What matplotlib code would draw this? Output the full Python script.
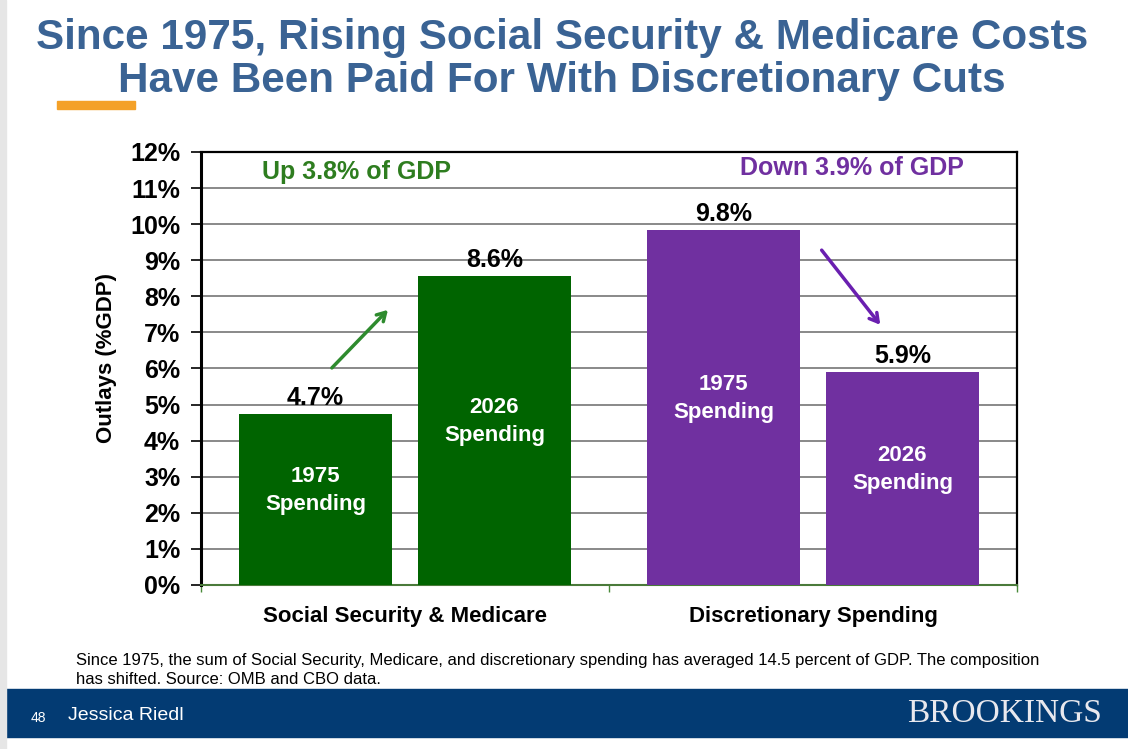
import matplotlib
matplotlib.use('Agg')
from matplotlib import pyplot as plt, ticker
from matplotlib.patches import Rectangle

groups = ['Social Security & Medicare', 'Discretionary Spending']
years = ['1975', '2026']
ss_medicare = [4.74, 8.56]
discretionary = [9.84, 5.90]
y_ticks = list(range(0, 13))
changes = ['Up 3.8% of GDP', 'Down 3.9% of GDP']

green = '#006400'
purple = '#7030A0'
title_blue = '#3A6394'
navy = '#033B73'

plt.rcParams['font.family'] = ['Liberation Sans', 'DejaVu Sans']


def main():
    fig = plt.figure(figsize=(11.28, 7.49), dpi=100)
    ax = fig.add_axes([0.1782, 0.2190, 0.7234, 0.5781])

    width = 0.375
    offset = 0.219
    series = [ss_medicare, discretionary]
    colors = [green, purple]
    for gi, (vals, col) in enumerate(zip(series, colors)):
        center = gi + 0.5
        for bi, (yr, v) in enumerate(zip(years, vals)):
            x = center + (offset if bi else -offset)
            ax.bar(x, v, width=width, color=col, zorder=3)
            ax.text(x, v + 0.1, f'{v:.1f}%', ha='center', va='bottom',
                    fontsize=18, fontweight='bold', color='black', zorder=4)
            # label inside the bar
            ax.text(x, v / 2 + 0.25, f'{yr}\nSpending', ha='center', va='center',
                    fontsize=16, fontweight='bold', color='white',
                    linespacing=1.4, zorder=4)

    ax.set_xlim(0, 2)
    ax.set_ylim(0, 12)
    ax.set_yticks(y_ticks)
    ax.set_yticklabels([f'{t}%' for t in y_ticks], fontsize=18, fontweight='bold')
    ax.tick_params(axis='y', length=7, width=1.2, pad=8)
    ax.set_xticks([0.5, 1.5])
    ax.set_xticklabels(groups, fontsize=16, fontweight='bold')
    ax.tick_params(axis='x', length=0, pad=15)
    ax.set_xticks([0, 1, 2], minor=True)
    ax.tick_params(axis='x', which='minor', length=5, color='#4a8a3a', width=1)

    ax.grid(axis='y', color='#808080', linewidth=1.3, zorder=0)
    ax.set_axisbelow(True)
    ax.spines['left'].set_linewidth(2.2)
    ax.spines['top'].set_linewidth(1.6)
    ax.spines['right'].set_linewidth(1.6)
    ax.spines['bottom'].set_color('#4a7a3a')
    ax.spines['bottom'].set_linewidth(1.5)

    ax.set_ylabel('Outlays (%GDP)', fontsize=16, fontweight='bold')
    ax.yaxis.set_label_coords(-0.103, 0.524)

    ax.text(0.382, 11.45, changes[0], ha='center', va='center', fontsize=18,
            fontweight='bold', color='#2E7D1F')
    ax.text(1.596, 11.56, changes[1], ha='center', va='center', fontsize=18,
            fontweight='bold', color=purple)

    ax.annotate('', xy=(0.463, 7.68), xytext=(0.316, 5.96),
                arrowprops=dict(arrowstyle='->,head_length=0.6,head_width=0.35',
                                color='#2E8B2E', lw=2.5))
    ax.annotate('', xy=(1.669, 7.15), xytext=(1.517, 9.34),
                arrowprops=dict(arrowstyle='->,head_length=0.6,head_width=0.35',
                                color='#6A1FB0', lw=2.5))

    # title
    fig.text(0.4985, 0.949, 'Since 1975, Rising Social Security & Medicare Costs',
             ha='center', va='center', fontsize=30.4, fontweight='bold', color=title_blue)
    fig.text(0.4985, 0.892, 'Have Been Paid For With Discretionary Cuts',
             ha='center', va='center', fontsize=30.4, fontweight='bold', color=title_blue)
    fig.patches.append(Rectangle((57 / 1128, 1 - 109 / 749), 78 / 1128, 8 / 749,
                                 transform=fig.transFigure, color='#F4A128'))

    # footnote
    fig.text(76 / 1128, 1 - 660 / 749,
             'Since 1975, the sum of Social Security, Medicare, and discretionary spending '
             'has averaged 14.5 percent of GDP. The composition',
             ha='left', va='center', fontsize=12)
    fig.text(76 / 1128, 1 - 679 / 749, 'has shifted. Source: OMB and CBO data.',
             ha='left', va='center', fontsize=12)

    # bottom banner
    fig.patches.append(Rectangle((6 / 1128, 1 - 737 / 749), 1122 / 1128, 48 / 749,
                                 transform=fig.transFigure, color=navy))
    fig.patches.append(Rectangle((0, 0), 6 / 1128, 1, transform=fig.transFigure,
                                 color='#E6E6E6'))
    fig.text(38 / 1128, 1 - 718 / 749, '48', ha='center', va='center', fontsize=10,
             color='white')
    fig.text(68 / 1128, 1 - 716 / 749, 'Jessica Riedl', ha='left', va='center',
             fontsize=14, color='white')
    fig.text(1102 / 1128, 1 - 714 / 749, 'BROOKINGS', ha='right', va='center',
             fontsize=24, color='#E8E8EE', family=['Liberation Serif', 'DejaVu Serif'])

    fig.savefig('out.png', dpi=100)


if __name__ == '__main__':
    main()
